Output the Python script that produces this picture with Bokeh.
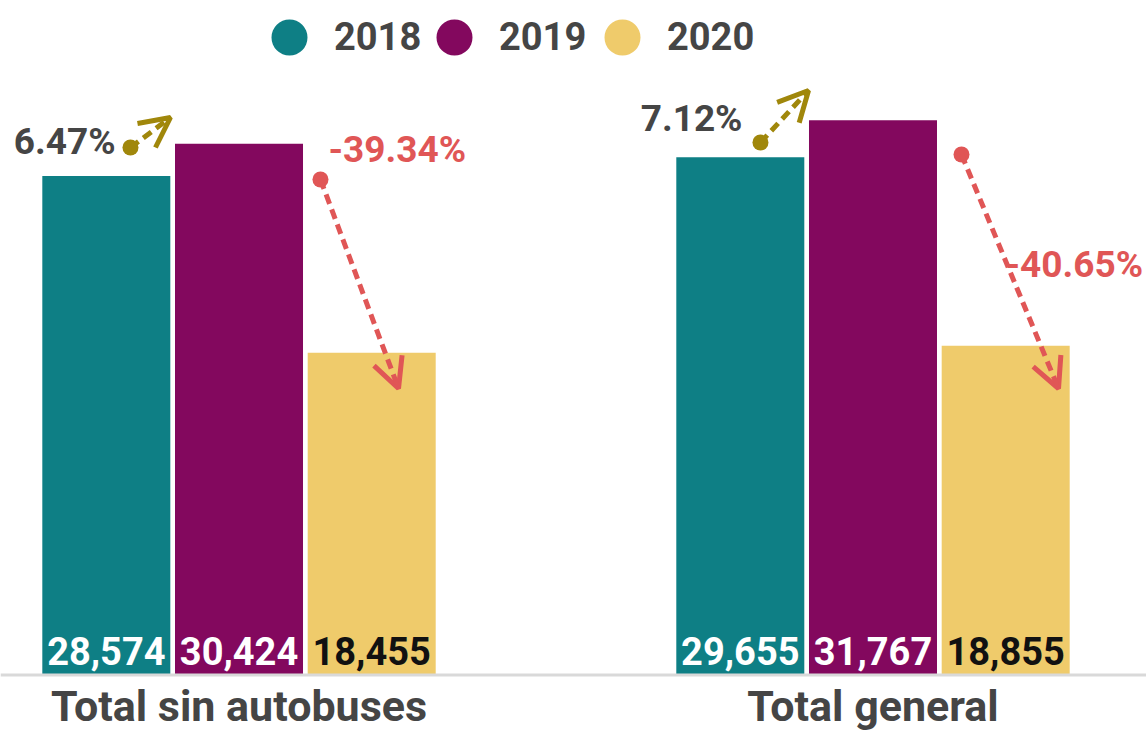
import math
from bokeh.plotting import figure
from bokeh.models import (ColumnDataSource, Range1d, Legend, LegendItem, Arrow, OpenHead, Span)
from bokeh.core.properties import value
from bokeh.embed import file_html
from bokeh.resources import INLINE

# ---------------- data ----------------
categories = ["Total sin autobuses", "Total general"]
years = ["2018", "2019", "2020"]
values_2018 = [28574, 29655]
values_2019 = [30424, 31767]
values_2020 = [18455, 18855]
change_2019_vs_2018 = ["6.47%", "7.12%"]
change_2020_vs_2019 = ["-39.34%", "-40.65%"]

# ---------------- style ----------------
FONT = "Roboto"
colors = ["#0E7F85", "#83085E", "#EFCB6B"]
value_label_colors = ["#FFFFFF", "#FFFFFF", "#111111"]
TEXT_GRAY = "#454545"
RED = "#E05656"
OLIVE = "#A0870B"

DODGE = 0.2093
BAR_W = 0.2019

p = figure(width=1146, height=734, output_backend="svg", toolbar_location=None,
           title=None,
           x_range=Range1d(-0.3762, 1.4314), y_range=Range1d(-3408, 38631),
           x_axis_location=None, y_axis_location=None,
           min_border_left=0, min_border_right=0, min_border_top=0, min_border_bottom=0)
p.grid.visible = False
p.outline_line_color = None
p.background_fill_color = "white"
p.border_fill_color = "white"

# bars + value labels
series = [values_2018, values_2019, values_2020]
for i, vals in enumerate(series):
    xs = [g + (i - 1) * DODGE for g in range(len(categories))]
    src = ColumnDataSource(dict(x=xs, top=vals, label=[f"{v:,}" for v in vals]))
    p.vbar(x="x", top="top", width=BAR_W, source=src, fill_color=colors[i], line_color=None)
    p.text(x="x", y=1346, text="label", source=src, text_align="center",
           text_baseline="middle", text_font=value(FONT), text_font_style="bold",
           text_font_size="38px", text_color=value_label_colors[i])

# baseline
p.add_layout(Span(location=0, dimension="width", line_color="#D9D9D9", line_width=3))

# category labels under the groups
p.text(x=list(range(len(categories))), y=-1804, text=categories, text_align="center",
       text_baseline="middle", text_font=value(FONT), text_font_style="bold",
       text_font_size="43px", text_color=TEXT_GRAY)

# change annotations: arrows (annotation geometry, not data)
olive_arrows = [(-0.1712, 30212, -0.1081, 31930), (0.8225, 30498, 0.8983, 33477)]
red_arrows = [(0.1285, 28379, 0.2516, 16409), (1.1396, 29811, 1.2926, 16409)]
for arrows, col in ((olive_arrows, OLIVE), (red_arrows, RED)):
    for (x0, y0, x1, y1) in arrows:
        p.add_layout(Arrow(end=OpenHead(size=30, line_color=col, line_width=5),
                           x_start=x0, y_start=y0, x_end=x1, y_end=y1,
                           line_color=col, line_width=5, line_dash="10 6"))
    p.scatter(x=[a[0] for a in arrows], y=[a[1] for a in arrows], marker="circle",
              size=16, fill_color=col, line_color=None)

p.text(x=[-0.1948, 0.7941], y=[30527, 31901], text=change_2019_vs_2018,
       text_align="right", text_baseline="middle", text_font=value(FONT),
       text_font_style="bold", text_font_size="37px", text_color=TEXT_GRAY)
p.text(x=[0.1411, 1.2090], y=[30069, 23499], text=change_2020_vs_2019,
       text_align="left", text_baseline="middle", text_font=value(FONT),
       text_font_style="bold", text_font_size="37px", text_color=RED)

# legend with circle markers (legend-only renderers, nothing drawn in the plot)
legend_left = [244, 409, 577]
for i, yr in enumerate(years):
    r = p.scatter(x=[math.nan], y=[math.nan], marker="circle", size=36,
                  fill_color=colors[i], line_color=None)
    lg = Legend(items=[LegendItem(label=yr, renderers=[r])], orientation="horizontal",
                location=(legend_left[i], 647),
                glyph_width=90, glyph_height=100, label_standoff=0, spacing=0,
                padding=0, margin=0, border_line_color=None, background_fill_alpha=0,
                label_text_font=FONT, label_text_font_style="bold",
                label_text_font_size="38px", label_text_color=TEXT_GRAY)
    p.add_layout(lg, "center")

open("out.html", "w").write(file_html(p, INLINE))
